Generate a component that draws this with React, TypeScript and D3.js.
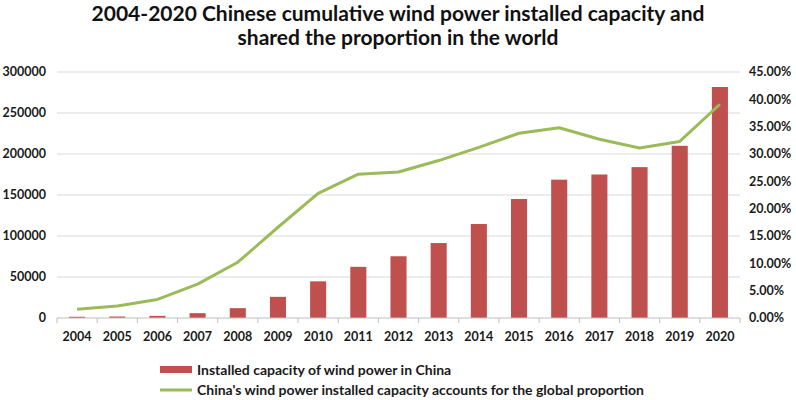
import { useEffect, useRef } from "react";
import * as d3 from "d3";

const years = [
  "2004", "2005", "2006", "2007", "2008", "2009", "2010", "2011", "2012",
  "2013", "2014", "2015", "2016", "2017", "2018", "2019", "2020",
];

// cumulative installed capacity (MW)
const capacity = [
  1500, 1800, 2600, 5900, 12000, 25800, 44700, 62400, 75300,
  91400, 114600, 145100, 168700, 175000, 184000, 210000, 281700,
];

// share of global capacity (%)
const share = [
  1.6, 2.2, 3.4, 6.2, 10.2, 16.6, 22.8, 26.3, 26.7,
  28.8, 31.2, 33.8, 34.8, 32.7, 31.1, 32.3, 39.1,
];

const leftTicks = [0, 50000, 100000, 150000, 200000, 250000, 300000];
const rightTicks = [0, 5, 10, 15, 20, 25, 30, 35, 40, 45];

const titleLines = [
  "2004-2020 Chinese cumulative wind power installed capacity and",
  "shared the proportion in the world",
];
const legendLabels = [
  "Installed capacity of wind power in China",
  "China's wind power installed capacity accounts for the global proportion",
];

const BAR = "#c0504d";
const LINE = "#9bbb59";
const FONT = "Lato, 'Open Sans', sans-serif";

export default function App() {
  const ref = useRef<SVGSVGElement | null>(null);

  useEffect(() => {
    document.body.style.margin = "0";
    if (!ref.current) return;

    const width = 796;
    const height = 400;
    const margin = { top: 72, right: 56, bottom: 82, left: 57 };

    const svg = d3.select(ref.current);
    svg.selectAll("*").remove();

    const x = d3
      .scaleBand()
      .domain(years)
      .range([margin.left, width - margin.right])
      .padding(0);

    const yL = d3
      .scaleLinear()
      .domain([0, 300000])
      .range([height - margin.bottom, margin.top]);

    const yR = d3
      .scaleLinear()
      .domain([0, 45])
      .range([height - margin.bottom, margin.top]);

    /* ---------------- TITLE ---------------- */

    svg.append("g")
      .selectAll("text")
      .data(titleLines)
      .enter()
      .append("text")
      .attr("x", width / 2)
      .attr("y", (_, i) => 21 + i * 24)
      .attr("text-anchor", "middle")
      .attr("font-family", FONT)
      .attr("font-weight", "bold")
      .attr("font-size", 21)
      .attr("fill", "#111")
      .text(d => d);

    /* ---------------- GRID ---------------- */

    svg.selectAll(".grid")
      .data(leftTicks.slice(1))
      .enter()
      .append("line")
      .attr("x1", margin.left)
      .attr("x2", width - margin.right)
      .attr("y1", d => yL(d))
      .attr("y2", d => yL(d))
      .attr("stroke", "#d9d9d9")
      .attr("stroke-width", 1);

    /* ---------------- BARS ---------------- */

    const bw = x.bandwidth() * 0.4;

    svg.selectAll(".bar")
      .data(capacity)
      .enter()
      .append("rect")
      .attr("x", (_, i) => x(years[i])! + (x.bandwidth() - bw) / 2)
      .attr("y", d => yL(d))
      .attr("width", bw)
      .attr("height", d => yL(0) - yL(d))
      .attr("fill", BAR);

    /* ---------------- X AXIS ---------------- */

    const base = yL(0);
    svg.append("line")
      .attr("x1", margin.left)
      .attr("x2", width - margin.right)
      .attr("y1", base)
      .attr("y2", base)
      .attr("stroke", "#bfbfbf");

    const edges = years.map(d => x(d)!).concat([width - margin.right]);
    svg.selectAll(".xtick")
      .data(edges)
      .enter()
      .append("line")
      .attr("x1", d => d)
      .attr("x2", d => d)
      .attr("y1", base)
      .attr("y2", base + 5)
      .attr("stroke", "#bfbfbf");

    svg.selectAll(".xlabel")
      .data(years)
      .enter()
      .append("text")
      .attr("x", d => x(d)! + x.bandwidth() / 2)
      .attr("y", base + 23)
      .attr("text-anchor", "middle")
      .attr("font-family", FONT)
      .attr("font-weight", "bold")
      .attr("font-size", 12.5)
      .attr("fill", "#1a1a1a")
      .text(d => d);

    /* ---------------- Y AXES ---------------- */

    svg.selectAll(".ylabel")
      .data(leftTicks)
      .enter()
      .append("text")
      .attr("x", 46)
      .attr("y", d => yL(d))
      .attr("dy", "0.35em")
      .attr("text-anchor", "end")
      .attr("font-family", FONT)
      .attr("font-weight", "bold")
      .attr("font-size", 12.5)
      .attr("fill", "#1a1a1a")
      .text(d => String(d));

    svg.selectAll(".rlabel")
      .data(rightTicks)
      .enter()
      .append("text")
      .attr("x", 749)
      .attr("y", d => yR(d))
      .attr("dy", "0.35em")
      .attr("font-family", FONT)
      .attr("font-weight", "bold")
      .attr("font-size", 12.5)
      .attr("fill", "#1a1a1a")
      .text(d => d.toFixed(2) + "%");

    /* ---------------- LINE ---------------- */

    const line = d3.line<number>()
      .x((_, i) => x(years[i])! + x.bandwidth() / 2)
      .y(d => yR(d));

    svg.append("path")
      .datum(share)
      .attr("fill", "none")
      .attr("stroke", LINE)
      .attr("stroke-width", 3)
      .attr("stroke-linejoin", "round")
      .attr("d", line);

    /* ---------------- LEGEND ---------------- */

    const lg = svg.append("g").attr("transform", "translate(160,370)");

    lg.append("rect")
      .attr("x", 0)
      .attr("y", -4)
      .attr("width", 32)
      .attr("height", 7)
      .attr("fill", BAR);

    lg.append("line")
      .attr("x1", 0)
      .attr("x2", 32)
      .attr("y1", 20)
      .attr("y2", 20)
      .attr("stroke", LINE)
      .attr("stroke-width", 3);

    lg.selectAll("text")
      .data(legendLabels)
      .enter()
      .append("text")
      .attr("x", 37)
      .attr("y", (_, i) => i * 20)
      .attr("dy", "0.35em")
      .attr("font-family", FONT)
      .attr("font-weight", "bold")
      .attr("font-size", 14)
      .attr("fill", "#1a1a1a")
      .text(d => d);
  }, []);

  return (
    <svg
      ref={ref}
      width={796}
      height={400}
      style={{ display: "block", background: "#fff" }}
    />
  );
}
